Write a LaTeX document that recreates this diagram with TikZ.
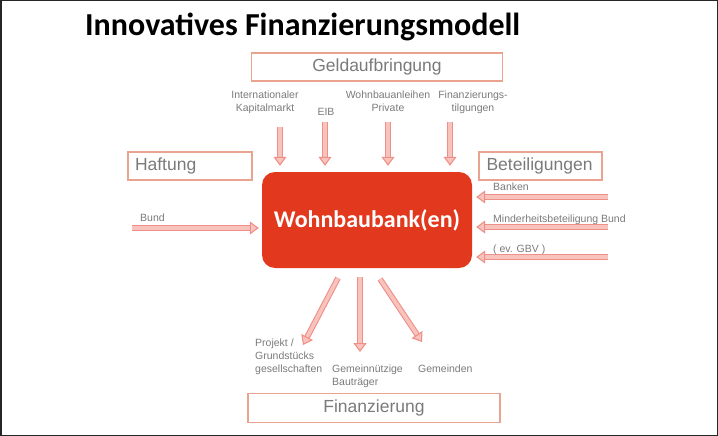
\documentclass[tikz,border=0pt]{standalone}
\usepackage{fontspec}
\setmainfont{Liberation Sans}
\newfontfamily\calibri{Carlito}
\usetikzlibrary{arrows.meta,positioning}
\definecolor{rahmen}{HTML}{EAA38F}
\definecolor{pfeilrand}{HTML}{EE9088}
\definecolor{pfeilfill}{HTML}{F8C3BC}
\definecolor{bankrot}{HTML}{E2391E}
\definecolor{textgrau}{HTML}{7A7A7A}

\begin{document}
\begin{tikzpicture}[
    x=1pt, y=-1pt,
    kasten/.style={
        draw=rahmen, line width=1.5pt,
        minimum height=28pt,
        inner sep=0pt,
        text=textgrau,
        font=\fontsize{17.5}{20}\selectfont
    },
    klein/.style={
        text=textgrau, inner sep=0pt,
        font=\fontsize{10.5}{13}\selectfont,
        align=center
    },
    pfeil/.style={
        draw=pfeilrand, line width=1.1pt,
        double=pfeilfill, double distance=3.6pt,
        -{Triangle[length=9pt,width=13pt,line width=1.1pt,fill=pfeilfill]}
    }
]
\useasboundingbox (0,0) rectangle (718,436);
\draw[line width=1.5pt, draw=black!85] (0.75,0.75) rectangle (717.25,435.25);

\node[anchor=base west, inner sep=0pt,
    font=\calibri\bfseries\fontsize{32}{36}\selectfont] (titel) at (85,36)
    {Innovatives Finanzierungsmodell};

% Kaesten
\node[kasten, minimum width=251pt] (geld) at (377,67) {Geldaufbringung};
\node[kasten, text width=110pt, inner xsep=7pt, align=left] (haftung) at (190,166) {Haftung};
\node[kasten, text width=108pt, inner xsep=7.5pt, align=left] (beteil) at (540.5,166) {Beteiligungen};
\node[kasten, minimum width=252pt, minimum height=29pt] (finanz) at (374,408) {Finanzierung};

\node[fill=bankrot, rounded corners=13pt,
    minimum width=210pt, minimum height=96pt,
    text=white, font=\calibri\bfseries\fontsize{24}{28}\selectfont] (bank) at (367,220)
    {Wohnbaubank(en)};

% Geldaufbringung
\node[klein, anchor=base] (kapital) at (265,111) {Internationaler\\Kapitalmarkt};
\node[klein, anchor=base] (eib) at (326,116) {EIB};
\node[klein, anchor=base] (privat) at (388,111) {Wohnbauanleihen\\Private};
\node[klein, anchor=base] (tilgung) at (473,111) {Finanzierungs-\\tilgungen};

\coordinate (k1) at (280,127);
\coordinate (k2) at (325,122);
\coordinate (k3) at (388,122);
\coordinate (k4) at (450,122);
\foreach \k in {k1,k2,k3,k4}
    \draw[pfeil, shorten >=6pt] (\k) -- (\k |- bank.north);

% Haftung
\node[klein, anchor=base west] (bund) at (140,221) {Bund};
\coordinate (h1) at (132,228);
\draw[pfeil, shorten >=3pt] (h1) -- (h1 -| bank.west);

% Beteiligungen
\node[klein, anchor=base west] (banken) at (493,190) {Banken};
\node[klein, anchor=base west] (minder) at (493,222) {Minderheitsbeteiligung Bund};
\node[klein, anchor=base west] (gbv) at (493,252) {( ev. GBV )};
\coordinate (b1) at (608,197);
\coordinate (b2) at (608,227);
\coordinate (b3) at (608,257);
\foreach \b in {b1,b2,b3}
    \draw[pfeil, shorten >=4pt] (\b) -- (\b -| bank.east);

% Finanzierung
\node[klein, anchor=base west, align=left] (projekt) at (255,372) {Projekt /\\Grundstücks\\gesellschaften};
\node[klein, anchor=base west, align=left] (gemein) at (332,385) {Gemeinnützige\\Bauträger};
\node[klein, anchor=base west] (gemeinden) at (418,372) {Gemeinden};

\coordinate (f1) at (338,278);
\coordinate (f2) at (360,277);
\coordinate (f3) at (380,279);
\draw[pfeil] (f1) -- (303,345);
\draw[pfeil] (f2) -- (360,352);
\draw[pfeil] (f3) -- (422,342);
\end{tikzpicture}
\end{document}
